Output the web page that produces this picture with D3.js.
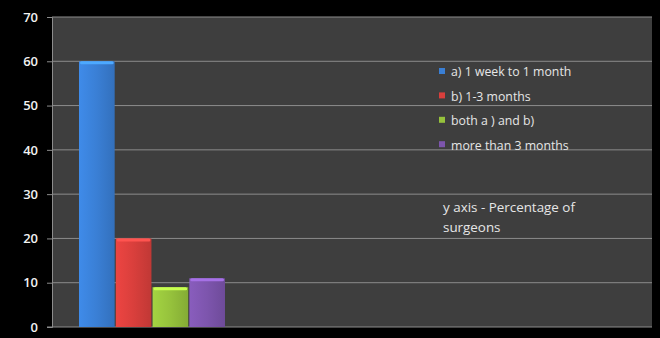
<!DOCTYPE html>
<html>
<head>
<meta charset="utf-8">
<script src="https://cdn.jsdelivr.net/npm/d3@7"></script>
<style>
  html, body { margin: 0; padding: 0; background: #000; }
  svg { display: block; }
</style>
</head>
<body>
<svg id="chart" width="660" height="338"></svg>
<script>
// Response groups and the share of surgeons choosing each
const series = ["a) 1 week to 1 month", "b) 1-3 months", "both a ) and b)", "more than 3 months"];
const values = [60, 20, 9, 11];
const colors = ["#3a7fd5", "#d93f3c", "#96c23c", "#7d55ad"];
const yTicks = [0, 10, 20, 30, 40, 50, 60, 70];
const note = ["y axis - Percentage of", "surgeons"];

const svg = d3.select("#chart");
const W = 660, H = 338;
const plot = { left: 52, right: 652, top: 17, bottom: 327 };
const font = "'Open Sans', sans-serif";

svg.append("rect").attr("width", W).attr("height", H).attr("fill", "#000");

// Plot area
svg.append("rect")
  .attr("x", plot.left).attr("y", plot.top)
  .attr("width", plot.right - plot.left).attr("height", plot.bottom - plot.top)
  .attr("fill", "#3e3e3e");

const y = d3.scaleLinear().domain([0, 70]).range([plot.bottom, plot.top]);
const x = d3.scaleBand().domain(series).range([79, 225]).paddingInner(0.03);

// Gridlines
svg.append("g").selectAll("line").data(yTicks.filter(d => d > 0)).join("line")
  .attr("x1", plot.left).attr("x2", plot.right)
  .attr("y1", d => y(d)).attr("y2", d => y(d))
  .attr("stroke", "#8c8c8c").attr("stroke-width", 1);

// Y axis
const yAxis = d3.axisLeft(y).tickValues(yTicks).tickSize(5).tickPadding(9);
const gy = svg.append("g").attr("transform", `translate(${plot.left},0)`).call(yAxis);
gy.select(".domain").attr("stroke", "#8c8c8c");
gy.selectAll(".tick line").attr("stroke", "#8c8c8c");
gy.selectAll(".tick text")
  .attr("fill", "#f2f2f2")
  .style("font-family", font)
  .style("font-weight", "600")
  .style("font-size", "13px");

// Baseline
svg.append("line")
  .attr("x1", plot.left - 5).attr("x2", plot.right)
  .attr("y1", plot.bottom).attr("y2", plot.bottom)
  .attr("stroke", "#8c8c8c");

// Bar shading gradients
const defs = svg.append("defs");
colors.forEach((c, i) => {
  const g = defs.append("linearGradient").attr("id", "bar" + i)
    .attr("x1", "0").attr("x2", "1").attr("y1", "0").attr("y2", "0");
  const base = d3.color(c);
  g.append("stop").attr("offset", "0%").attr("stop-color", base.brighter(0.25));
  g.append("stop").attr("offset", "50%").attr("stop-color", base);
  g.append("stop").attr("offset", "100%").attr("stop-color", base.darker(0.35));
});

const bars = svg.append("g").selectAll("g").data(series).join("g");
bars.append("rect")
  .attr("x", d => x(d))
  .attr("y", (d, i) => y(values[i]))
  .attr("width", x.bandwidth())
  .attr("height", (d, i) => y(0) - y(values[i]))
  .attr("fill", (d, i) => `url(#bar${i})`);
// Bevelled top cap
bars.append("rect")
  .attr("x", d => x(d) + 1)
  .attr("y", (d, i) => y(values[i]))
  .attr("width", x.bandwidth() - 2)
  .attr("height", 3)
  .attr("rx", 1.5)
  .attr("fill", (d, i) => d3.color(colors[i]).brighter(0.8));

// Legend
const legend = svg.append("g").attr("transform", "translate(439,72)");
const row = legend.selectAll("g").data(series).join("g")
  .attr("transform", (d, i) => `translate(0,${i * 24.4})`);
row.append("rect")
  .attr("x", 0).attr("y", -4).attr("width", 6).attr("height", 6)
  .attr("fill", (d, i) => colors[i]);
row.append("text")
  .attr("x", 12).attr("y", 0).attr("dy", "0.35em")
  .attr("fill", "#e6e6e6")
  .style("font-family", font)
  .style("font-size", "12.3px")
  .text(d => d);

// Axis note
svg.append("g").selectAll("text").data(note).join("text")
  .attr("x", 443).attr("y", (d, i) => 212 + i * 20)
  .attr("fill", "#e6e6e6")
  .style("font-family", font)
  .style("font-size", "13.4px")
  .text(d => d);
</script>
</body>
</html>
